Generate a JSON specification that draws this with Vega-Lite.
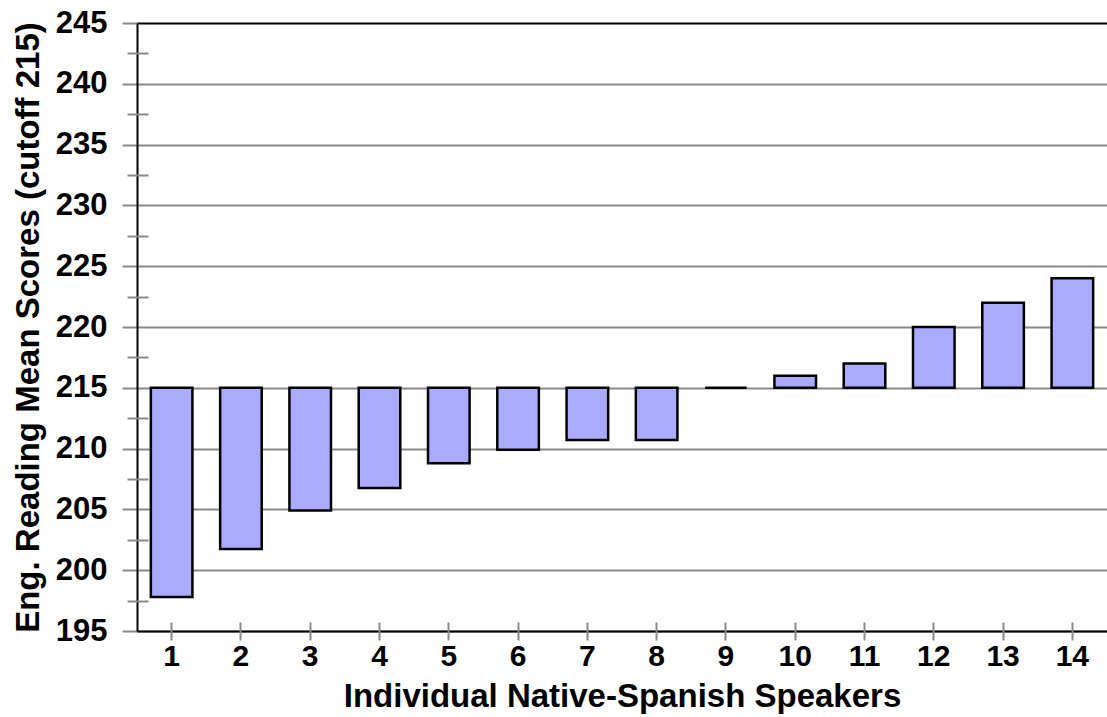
{
  "$schema": "https://vega.github.io/schema/vega-lite/v6.json",
  "width": 970,
  "height": 608,
  "autosize": {"type": "none"},
  "padding": {"left": 137, "top": 23, "right": 0, "bottom": 86},
  "background": "white",
  "config": {
    "view": {"stroke": null},
    "font": "Liberation Sans"
  },
  "data": {
    "values": [
      {"speaker": "1", "score": 197.8},
      {"speaker": "2", "score": 201.75},
      {"speaker": "3", "score": 204.9},
      {"speaker": "4", "score": 206.75},
      {"speaker": "5", "score": 208.8},
      {"speaker": "6", "score": 209.9},
      {"speaker": "7", "score": 210.7},
      {"speaker": "8", "score": 210.7},
      {"speaker": "9", "score": 215},
      {"speaker": "10", "score": 216},
      {"speaker": "11", "score": 217},
      {"speaker": "12", "score": 220},
      {"speaker": "13", "score": 222},
      {"speaker": "14", "score": 224}
    ]
  },
  "resolve": {"axis": {"x": "independent", "y": "independent"}},
  "layer": [
    {
      "mark": {"type": "bar", "fill": "#AAAAFF", "stroke": "black", "strokeWidth": 2.5},
      "encoding": {
        "x": {
          "field": "speaker", "type": "ordinal", "sort": null,
          "scale": {"paddingInner": 0.4, "paddingOuter": 0.2},
          "axis": {
            "orient": "bottom",
            "title": "Individual Native-Spanish Speakers",
            "titleFont": "Liberation Sans", "titleFontSize": 33, "titleFontWeight": "bold", "titleColor": "black",
            "titlePadding": 9,
            "labelFont": "Liberation Sans", "labelFontSize": 30, "labelFontWeight": "bold", "labelColor": "black",
            "labelAngle": 0, "labelPadding": 10,
            "ticks": false,
            "domain": true, "domainColor": "black", "domainWidth": 2,
            "grid": false
          }
        },
        "y": {
          "field": "score", "type": "quantitative",
          "scale": {"domain": [195, 245], "nice": false, "zero": false},
          "axis": {
            "orient": "left",
            "title": "Eng. Reading Mean Scores (cutoff 215)",
            "titleFont": "Liberation Sans", "titleFontSize": 33, "titleFontWeight": "bold", "titleColor": "black",
            "titlePadding": 10,
            "values": [195, 200, 205, 210, 215, 220, 225, 230, 235, 240, 245],
            "labelFont": "Liberation Sans", "labelFontSize": 31, "labelFontWeight": "bold", "labelColor": "black",
            "labelPadding": 15,
            "tickSize": 15, "tickColor": "#888888", "tickWidth": 2,
            "domain": true, "domainColor": "black", "domainWidth": 2,
            "grid": true,
            "gridColor": {"condition": {"test": "datum.value === 245", "value": "black"}, "value": "#888888"},
            "gridWidth": 2
          }
        },
        "y2": {"datum": 215}
      }
    },
    {
      "mark": {"type": "point", "opacity": 0},
      "encoding": {
        "x": {
          "field": "speaker", "type": "ordinal", "sort": null,
          "axis": {
            "orient": "bottom",
            "title": null, "labels": false, "domain": false, "grid": false,
            "offset": -9, "tickSize": 18, "tickColor": "#888888", "tickWidth": 2
          }
        },
        "y": {
          "field": "score", "type": "quantitative",
          "axis": {
            "orient": "left",
            "title": null, "labels": false, "domain": false, "grid": false,
            "values": [197.5, 202.5, 207.5, 212.5, 217.5, 222.5, 227.5, 232.5, 237.5, 242.5],
            "offset": -11, "tickSize": 21, "tickColor": "#888888", "tickWidth": 2
          }
        }
      }
    }
  ]
}
